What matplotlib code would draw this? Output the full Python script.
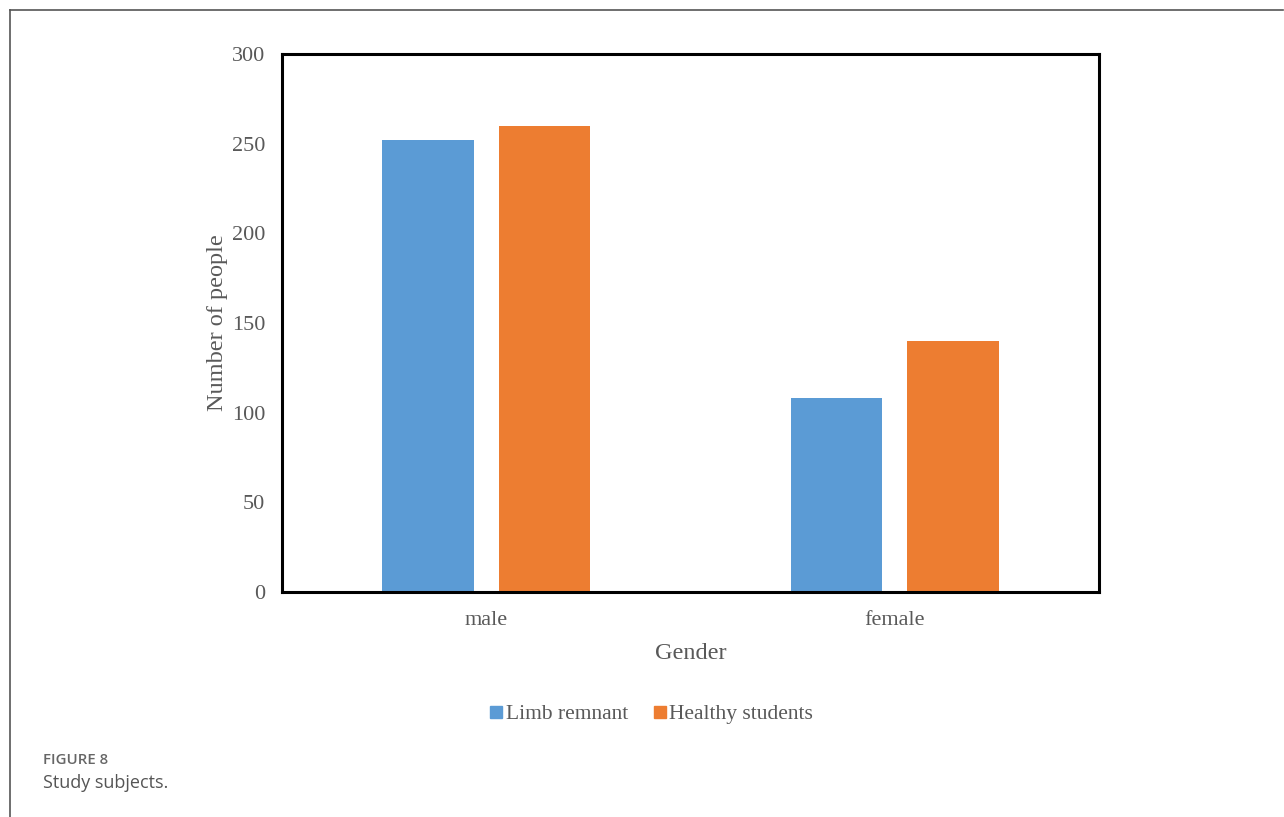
import matplotlib.pyplot as plt
import numpy as np
from matplotlib.lines import Line2D

# ── Data ──────────────────────────────────────────────────────────────────────

genders = ["male", "female"]
limb_remnant = [252, 108]
healthy_students = [260, 140]
y_ticks = [0, 50, 100, 150, 200, 250, 300]

BLUE = "#5b9bd5"
ORANGE = "#ed7d31"
GREY = "#595959"

# ── Figure ────────────────────────────────────────────────────────────────────

fig = plt.figure(figsize=(12.84, 8.17), dpi=100)
ax = fig.add_axes([282 / 1284, 1 - 592 / 817, (1099 - 282) / 1284, (592 - 54) / 817])

x = np.arange(len(genders))
w = 0.223
off = w / 2 + 0.031
ax.bar(x - off, limb_remnant, w, color=BLUE, label="Limb remnant")
ax.bar(x + off, healthy_students, w, color=ORANGE, label="Healthy students")

ax.set_xlim(-0.5, 1.5)
ax.set_ylim(0, 300)
ax.set_yticks(y_ticks)
ax.set_xticks(x, genders)

serif = "Liberation Serif"
for s in ax.spines.values():
    s.set_linewidth(2.2)
    s.set_color("black")
ax.tick_params(length=0, labelsize=16, labelcolor=GREY)
ax.tick_params(axis="y", pad=12)
ax.tick_params(axis="x", pad=14)
for lbl in ax.get_xticklabels() + ax.get_yticklabels():
    lbl.set_family(serif)

ax.set_ylabel("Number of people", family=serif, fontsize=17.5, color=GREY, labelpad=3)
ax.set_xlabel("Gender", family=serif, fontsize=17.5, color=GREY, labelpad=9)

handles = [Line2D([], [], marker="s", ls="", color=BLUE, markersize=8),
           Line2D([], [], marker="s", ls="", color=ORANGE, markersize=8)]
leg = fig.legend(handles, ["Limb remnant", "Healthy students"], loc="center",
                 bbox_to_anchor=(650 / 1284, 1 - 714 / 817), ncol=2, frameon=False,
                 prop={"family": serif, "size": 15.5}, handletextpad=0.0,
                 columnspacing=1.0, handlelength=0.9)
for t in leg.get_texts():
    t.set_color(GREY)

# ── Frame and caption ─────────────────────────────────────────────────────────

fig.add_artist(Line2D([10 / 1284, 1283 / 1284], [1 - 10 / 817] * 2, color="#555555", lw=1.2))
fig.add_artist(Line2D([10 / 1284] * 2, [1 - 10 / 817, 0], color="#555555", lw=1.2))

fig.text(43 / 1284, 1 - 760 / 817, "FIGURE 8", family="Open Sans", fontsize=10.8,
         weight="semibold", color="#666666", va="center")
fig.text(43 / 1284, 1 - 783 / 817, "Study subjects.", family="Open Sans", fontsize=13,
         color="#555555", va="center")

fig.savefig("out.png", dpi=100)
